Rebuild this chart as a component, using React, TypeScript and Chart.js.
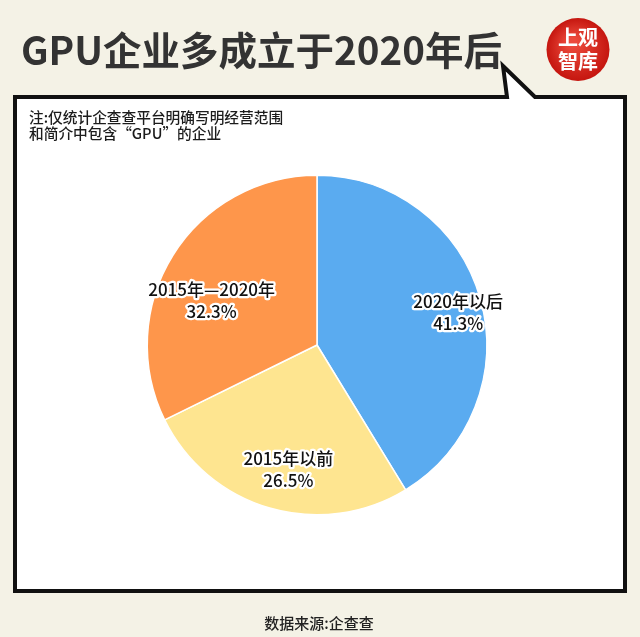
import React, { useEffect, useRef } from "react";
import { Chart, registerables } from "chart.js";

Chart.register(...registerables);

const categories = ["2020年以后", "2015年以前", "2015年—2020年"];
const shares = [41.3, 26.5, 32.3];
const sliceColors = ["#5aabf0", "#fee590", "#fe964b"];

const titleText = "GPU企业多成立于2020年后";
const noteLines = ["注:仅统计企查查平台明确写明经营范围", "和简介中包含“GPU”的企业"];
const sourceText = "数据来源:企查查";

// label placement tweaks (fraction of radius, angular shift in degrees)
const labelRadius = [0.853, 0.751, 0.674];
const labelShift = [2.9, -3.2, -9];

const FONT = "'Noto Sans CJK SC', 'Noto Sans', sans-serif";

const decorPlugin = {
  id: "decor",
  beforeDraw(chart: any) {
    const ctx = chart.ctx as CanvasRenderingContext2D;
    const W = chart.width;
    const H = chart.height;
    ctx.save();
    // background
    ctx.fillStyle = "#f4f2e6";
    ctx.fillRect(0, 0, W, H);

    // title
    ctx.fillStyle = "#333333";
    ctx.font = `bold 38.5px ${FONT}`;
    ctx.textAlign = "left";
    ctx.textBaseline = "alphabetic";
    ctx.fillText(titleText, 21, 65);

    // logo
    const lx = 578, ly = 49.5, lr = 31.5;
    const g = ctx.createRadialGradient(lx - 6, ly - 8, 4, lx, ly, lr);
    g.addColorStop(0, "#ec4a3c");
    g.addColorStop(1, "#c5160f");
    ctx.beginPath();
    ctx.arc(lx, ly, lr, 0, Math.PI * 2);
    ctx.fillStyle = g;
    ctx.fill();
    ctx.fillStyle = "#ffffff";
    ctx.font = `bold 20px ${FONT}`;
    ctx.textAlign = "center";
    ctx.textBaseline = "middle";
    ctx.fillText("上观", lx, ly - 12);
    ctx.fillText("智库", lx, ly + 12);

    // speech box
    ctx.beginPath();
    ctx.moveTo(15, 97);
    ctx.lineTo(507, 97);
    ctx.lineTo(503, 66);
    ctx.lineTo(535, 97);
    ctx.lineTo(625, 97);
    ctx.lineTo(625, 591);
    ctx.lineTo(15, 591);
    ctx.closePath();
    ctx.fillStyle = "#ffffff";
    ctx.fill();
    ctx.lineWidth = 4;
    ctx.lineJoin = "miter";
    ctx.strokeStyle = "#111111";
    ctx.stroke();

    // note
    ctx.fillStyle = "#1c1c1c";
    ctx.font = `500 14.7px ${FONT}`;
    ctx.textAlign = "left";
    ctx.textBaseline = "middle";
    ctx.fillText(noteLines[0], 29, 117.5);
    ctx.fillText(noteLines[1], 29, 133.5);

    // source
    ctx.fillStyle = "#222222";
    ctx.font = `500 15px ${FONT}`;
    ctx.textAlign = "center";
    ctx.fillText(sourceText, 319, 623);
    ctx.restore();
  },
  afterDatasetsDraw(chart: any) {
    const ctx = chart.ctx as CanvasRenderingContext2D;
    const meta = chart.getDatasetMeta(0);
    const data = chart.data.datasets[0].data as number[];
    ctx.save();
    ctx.font = `500 17px ${FONT}`;
    ctx.textAlign = "center";
    ctx.textBaseline = "middle";
    ctx.lineJoin = "round";
    meta.data.forEach((arc: any, i: number) => {
      const p = arc.getProps(["x", "y", "startAngle", "endAngle", "outerRadius"], true);
      const a = (p.startAngle + p.endAngle) / 2 + (labelShift[i] * Math.PI) / 180;
      const r = p.outerRadius * labelRadius[i];
      const cx = p.x + Math.cos(a) * r;
      const cy = p.y + Math.sin(a) * r;
      const lines = [chart.data.labels[i] as string, `${data[i]}%`];
      lines.forEach((t, k) => {
        const y = cy + (k === 0 ? -11 : 11);
        ctx.lineWidth = 4.5;
        ctx.strokeStyle = "#ffffff";
        ctx.strokeText(t, cx, y);
        ctx.fillStyle = "#111111";
        ctx.fillText(t, cx, y);
      });
    });
    ctx.restore();
  },
};

export default function App() {
  const ref = useRef<HTMLCanvasElement | null>(null);
  useEffect(() => {
    if (!ref.current) return;
    const chart = new Chart(ref.current, {
      type: "pie",
      data: {
        labels: categories,
        datasets: [
          {
            data: shares,
            backgroundColor: sliceColors,
            borderColor: "#ffffff",
            borderWidth: 1.5,
          },
        ],
      },
      options: {
        animation: false,
        responsive: true,
        maintainAspectRatio: false,
        layout: { padding: { left: 146.5, top: 174.5, right: 152.5, bottom: 121.5 } },
        plugins: {
          legend: { display: false },
          tooltip: { enabled: false },
        },
        events: [],
      },
      plugins: [decorPlugin],
    });
    return () => chart.destroy();
  }, []);
  return (
    <div style={{ position: "absolute", left: 0, top: 0, width: 640, height: 637 }}>
      <canvas ref={ref} />
    </div>
  );
}
